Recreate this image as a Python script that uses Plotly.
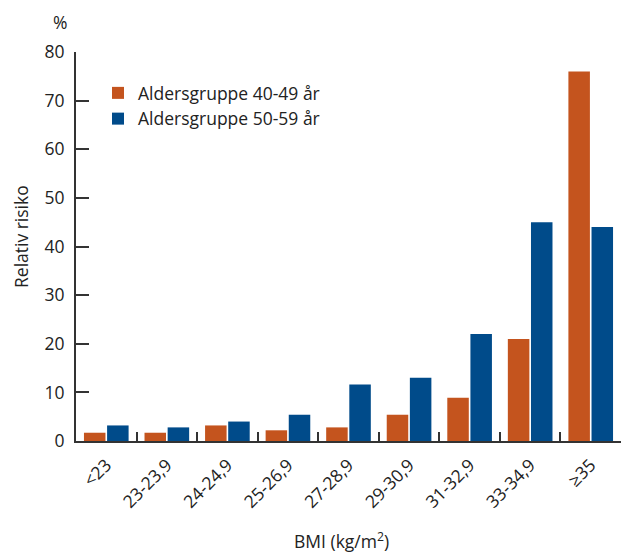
import plotly.graph_objects as go

# BMI categories and relative risk (%) per age group
categories = ["<23", "23-23,9", "24-24,9", "25-26,9", "27-28,9",
              "29-30,9", "31-32,9", "33-34,9", "≥35"]
age_40_49 = [1.7, 1.7, 3.2, 2.2, 2.8, 5.4, 8.9, 21.0, 76.0]
age_50_59 = [3.2, 2.8, 4.0, 5.4, 11.6, 13.0, 22.0, 45.0, 44.0]
y_ticks = [0, 10, 20, 30, 40, 50, 60, 70, 80]

ORANGE = "#C4541E"
BLUE = "#004B8A"
TEXT = "#222222"
AXIS = "#333333"
FONT = "Open Sans"
FS = 17.5

# plot area in pixels: x 76..621, y 52..441
PW, PH, L, T = 545, 389, 76, 52


def px_x(x):
    return (x - L) / PW


def px_y(y):
    return (T + PH - y) / PH


fig = go.Figure()
fig.add_trace(go.Bar(x=categories, y=age_40_49, name="Aldersgruppe 40-49 år",
                     marker=dict(color=ORANGE, line=dict(width=0))))
fig.add_trace(go.Bar(x=categories, y=age_50_59, name="Aldersgruppe 50-59 år",
                     marker=dict(color=BLUE, line=dict(width=0))))

fig.update_layout(
    width=622, height=555,
    margin=dict(l=L, r=1, t=T, b=555 - T - PH),
    paper_bgcolor="white", plot_bgcolor="white",
    barmode="group", bargap=0.236, bargroupgap=0.07,
    font=dict(family=FONT, size=FS, color=TEXT),
    showlegend=True,
    legend=dict(x=px_x(98), y=px_y(75), xanchor="left", yanchor="top",
                bgcolor="rgba(0,0,0,0)", font=dict(size=FS, color=TEXT),
                itemwidth=30, tracegroupgap=0, traceorder="normal"),
    xaxis=dict(
        type="category", tickson="boundaries",
        showline=True, linecolor=AXIS, linewidth=2,
        ticks="inside", ticklen=9, tickwidth=2, tickcolor=AXIS,
        tickangle=-45, tickfont=dict(size=FS, color=TEXT),
        ticklabelstandoff=5,
        showgrid=False, zeroline=False,
    ),
    yaxis=dict(
        range=[0, 80], tickvals=y_ticks,
        showline=True, linecolor=AXIS, linewidth=2,
        ticks="inside", ticklen=13, tickwidth=2, tickcolor=AXIS,
        tickfont=dict(size=FS, color=TEXT),
        ticklabelstandoff=6,
        showgrid=False, zeroline=False,
    ),
    annotations=[
        dict(text="%", x=px_x(60), y=px_y(22), xref="paper", yref="paper",
             xanchor="center", yanchor="middle", showarrow=False,
             font=dict(size=FS, color=TEXT)),
        dict(text="Relativ risiko", x=px_x(21), y=px_y(237), xref="paper",
             yref="paper", xanchor="center", yanchor="middle",
             textangle=-90, showarrow=False, font=dict(size=FS, color=TEXT)),
        dict(text="BMI (kg/m<sup>2</sup>)", x=px_x(341), y=px_y(555),
             xref="paper", yref="paper", xanchor="center", yanchor="bottom",
             showarrow=False, font=dict(size=FS, color=TEXT)),
    ],
)

fig.write_html("out.html")
